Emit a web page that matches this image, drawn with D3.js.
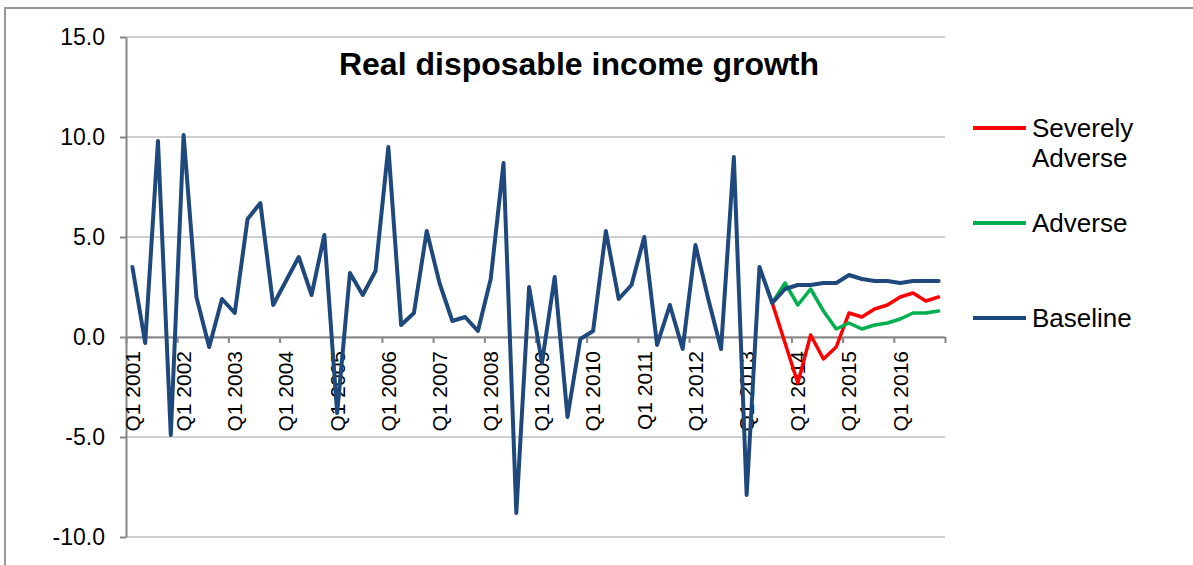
<!DOCTYPE html>
<html>
<head>
<meta charset="utf-8">
<script src="https://cdn.jsdelivr.net/npm/d3@7/dist/d3.min.js"></script>
<style>
  html, body { margin: 0; padding: 0; background: #ffffff; }
  svg { display: block; font-family: "Liberation Sans", Arial, sans-serif; }
</style>
</head>
<body>
<svg id="chart" width="1193" height="565"></svg>
<script>
// ---------- DATA ----------
const title = "Real disposable income growth";
const years = [2001, 2002, 2003, 2004, 2005, 2006, 2007, 2008,
               2009, 2010, 2011, 2012, 2013, 2014, 2015, 2016];
const quarterNames = ["Q1", "Q2", "Q3", "Q4"];
const categories = years.flatMap(yr => quarterNames.map(q => q + " " + yr));

// Baseline (history through Q3 2013, then baseline projection)
const baseline = [
   3.5, -0.3,  9.8, -4.9,   // 2001
  10.1,  2.0, -0.5,  1.9,   // 2002
   1.2,  5.9,  6.7,  1.6,   // 2003
   2.8,  4.0,  2.1,  5.1,   // 2004
  -3.8,  3.2,  2.1,  3.3,   // 2005
   9.5,  0.6,  1.2,  5.3,   // 2006
   2.7,  0.8,  1.0,  0.3,   // 2007
   2.9,  8.7, -8.8,  2.5,   // 2008
  -1.3,  3.0, -4.0, -0.1,   // 2009
   0.3,  5.3,  1.9,  2.6,   // 2010
   5.0, -0.4,  1.6, -0.6,   // 2011
   4.6,  1.9, -0.6,  9.0,   // 2012
  -7.9,  3.5,  1.7,  2.4,   // 2013
   2.6,  2.6,  2.7,  2.7,   // 2014
   3.1,  2.9,  2.8,  2.8,   // 2015
   2.7,  2.8,  2.8,  2.8    // 2016
];
// Scenario paths start from the last historical quarter
const scenarioStart = "Q3 2013";
const adverse = [1.7, 2.7, 1.6, 2.4, 1.3, 0.4, 0.7, 0.4, 0.6, 0.7, 0.9, 1.2, 1.2, 1.3];
const severelyAdverse = [1.7, -0.3, -2.3, 0.1, -1.1, -0.5, 1.2, 1.0, 1.4, 1.6, 2.0, 2.2, 1.8, 2.0];

const yTicks = [-10, -5, 0, 5, 10, 15];
const seriesNames = ["Severely Adverse", "Adverse", "Baseline"];
const seriesColors = ["#FF0000", "#00B050", "#1F497D"];

// ---------- BUILD ----------
const startIdx = categories.indexOf(scenarioStart);
const toPoints = (vals, offset) => vals.map((v, i) => ({ cat: categories[i + offset], v }));
const series = [
  { name: seriesNames[0], color: seriesColors[0], pts: toPoints(severelyAdverse, startIdx), w: 3.5 },
  { name: seriesNames[1], color: seriesColors[1], pts: toPoints(adverse, startIdx), w: 3.5 },
  { name: seriesNames[2], color: seriesColors[2], pts: toPoints(baseline, 0), w: 4 }
];

const svg = d3.select("#chart");
const plot = { left: 126, right: 945, top: 37, bottom: 537 };

const x = d3.scaleBand().domain(categories).range([plot.left, plot.right]).paddingInner(0).paddingOuter(0);
const xIdx = d3.scaleLinear().domain([0, categories.length]).range([plot.left, plot.right]);
const y = d3.scaleLinear().domain([-10, 15]).range([plot.bottom, plot.top]);
const cx = c => x(c) + x.bandwidth() / 2;

// outer frame (partially visible)
svg.append("rect")
  .attr("x", 5).attr("y", 8).attr("width", 1400).attr("height", 800)
  .attr("fill", "none").attr("stroke", "#979797").attr("stroke-width", 2);

// gridlines
svg.append("g").selectAll("line").data(yTicks).join("line")
  .attr("x1", plot.left).attr("x2", plot.right)
  .attr("y1", d => y(d)).attr("y2", d => y(d))
  .attr("stroke", "#D0D0D0").attr("stroke-width", 2);

// y axis
const yAxis = svg.append("g").attr("transform", `translate(${plot.left},0)`)
  .call(d3.axisLeft(y).tickValues(yTicks).tickFormat(d => d.toFixed(1)).tickSize(6).tickSizeOuter(0).tickPadding(15));
yAxis.select(".domain").attr("stroke", "#878787").attr("stroke-width", 2);
yAxis.selectAll(".tick line").attr("stroke", "#878787").attr("stroke-width", 2);
yAxis.selectAll(".tick text").attr("font-size", 23).attr("fill", "#000")
  .attr("font-family", "'Liberation Sans', Arial, sans-serif");

// x axis (category axis crossing at zero)
const tickIdx = d3.range(0, categories.length + 1, 4);
const xAxisTicks = svg.append("g").attr("transform", `translate(0,${y(0)})`)
  .call(d3.axisBottom(xIdx).tickValues(tickIdx).tickFormat("").tickSize(6).tickSizeOuter(0));
xAxisTicks.select(".domain").attr("stroke", "#878787").attr("stroke-width", 2);
xAxisTicks.selectAll(".tick line").attr("stroke", "#878787").attr("stroke-width", 2);

const q1Cats = categories.filter(c => c.startsWith("Q1"));
const xAxisLabels = svg.append("g").attr("transform", `translate(0,${y(0)})`)
  .call(d3.axisBottom(x).tickValues(q1Cats).tickSize(0).tickSizeOuter(0));
xAxisLabels.select(".domain").remove();
xAxisLabels.selectAll(".tick text")
  .attr("font-size", 21).attr("fill", "#000")
  .attr("font-family", "'Liberation Sans', Arial, sans-serif")
  .attr("transform", "rotate(-90)")
  .attr("text-anchor", "end")
  .attr("x", -14).attr("y", 0).attr("dy", "0.35em");

// lines
const line = d3.line().x(d => cx(d.cat)).y(d => y(d.v)).defined(d => d.v != null);
svg.append("g").selectAll("path").data(series).join("path")
  .attr("d", s => line(s.pts))
  .attr("fill", "none")
  .attr("stroke", s => s.color)
  .attr("stroke-width", s => s.w)
  .attr("stroke-linejoin", "round")
  .attr("stroke-linecap", "round");

// title
svg.append("text")
  .attr("x", 579).attr("y", 75)
  .attr("text-anchor", "middle")
  .attr("font-size", 32).attr("font-weight", "bold").attr("fill", "#000")
  .text(title);

// legend
const legendItems = [
  { s: series[0], ly: 128, lines: ["Severely", "Adverse"] },
  { s: series[1], ly: 223, lines: ["Adverse"] },
  { s: series[2], ly: 318, lines: ["Baseline"] }
];
const lg = svg.append("g");
legendItems.forEach(item => {
  lg.append("line")
    .attr("x1", 973).attr("x2", 1026).attr("y1", item.ly).attr("y2", item.ly)
    .attr("stroke", item.s.color).attr("stroke-width", 4);
  const t = lg.append("text")
    .attr("x", 1032).attr("y", item.ly + 9)
    .attr("font-size", 26).attr("fill", "#000");
  item.lines.forEach((ln, i) => {
    t.append("tspan").attr("x", 1032).attr("dy", i === 0 ? 0 : 29.5).text(ln);
  });
});
</script>
</body>
</html>
